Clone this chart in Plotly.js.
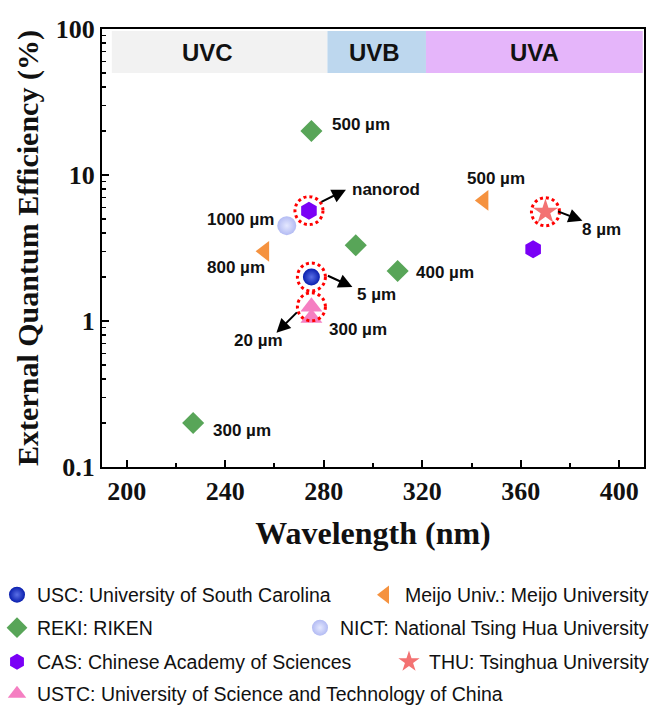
<!DOCTYPE html>
<html><head><meta charset="utf-8">
<script src="https://cdn.plot.ly/plotly-3.0.1.min.js"></script>
<style>html,body{margin:0;padding:0;background:#fff}#chart{width:652px;height:707px}</style>
</head><body><div id="chart"></div>
<script>
// ---------- data (wavelength nm, EQE %) ----------
const uscX = [275],  uscY = [2.0];
const rekiX = [275, 293, 310, 227], rekiY = [20, 3.3, 2.2, 0.2];
const casX = [274, 365], casY = [5.7, 3.1];
const ustcX = [275, 275], ustcY = [1.25, 1.05];
const meijoX = [256, 345], meijoY = [3.0, 6.7];
const nictX = [265], nictY = [4.5];
const thuX = [370], thuY = [5.6];

const seriesNames = [
  'USC: University of South Carolina',
  'REKI: RIKEN',
  'CAS: Chinese Academy of Sciences',
  'USTC: University of Science and Technology of China',
  'Meijo Univ.: Meijo University',
  'NICT: National Tsing Hua University',
  'THU: Tsinghua University'
];

// spectral bands
const bandNames = ['UVC', 'UVB', 'UVA'];
const bandStart = [194, 281.5, 321.5];
const bandEnd = [281.5, 321.5, 409.5];
const bandLabelX = [233, 300.5, 365.5];
const bandColors = ['#f2f2f2', '#bdd7ee', '#e5b5fa'];
const bandLow = 50, bandHigh = 97, bandLabelY = 69;

// axes
const xTicks = [200, 240, 280, 320, 360, 400];
const xTickText = ['200', '240', '280', '320', '360', '400'];
const yTicks = [0.1, 1, 10, 100];
const yTickText = ['0.1', '1', '10', '100'];

// ---------- styling ----------
const serif = 'Liberation Serif, Times New Roman, serif';
const sans = 'Liberation Sans, Arial, sans-serif';
const lg = Math.log10;
const PX_PER_DECADE = 438 / 3;

function tr(x, y, name, legend, symbol, color, size, extra) {
  const m = Object.assign({symbol: symbol, color: color, size: size, line: {width: 0}}, extra || {});
  return {type: 'scatter', mode: 'markers', x: x, y: y, name: name, legend: legend,
          marker: m, hoverinfo: 'x+y', cliponaxis: false};
}

const data = [
  tr(uscX, uscY, seriesNames[0], 'legend', 'circle', '#0a1fae', 17, {gradient: {type: 'radial', color: '#5a6fe6'}}),
  tr(rekiX, rekiY, seriesNames[1], 'legend2', 'diamond', '#58a558', 17),
  tr(casX, casY, seriesNames[2], 'legend3', 'hexagon', '#7a00f6', 18),
  tr(ustcX, ustcY, seriesNames[3], 'legend4', 'triangle-up', '#f57fc2', 19),
  tr(meijoX, meijoY, seriesNames[4], 'legend5', 'triangle-left', '#f5923f', 18),
  tr(nictX, nictY, seriesNames[5], 'legend6', 'circle', '#b3bbf3', 19, {gradient: {type: 'radial', color: '#e4e8ff'}}),
  tr(thuX, thuY, seriesNames[6], 'legend7', 'star', '#f37272', 19)
];

// band rectangles + labels
const shapes = [];
const annotations = [];
for (let i = 0; i < bandNames.length; i++) {
  shapes.push({type: 'rect', xref: 'x', yref: 'y', x0: bandStart[i], x1: bandEnd[i],
    y0: bandLow, y1: bandHigh, fillcolor: bandColors[i], line: {width: 0}, layer: 'below'});
  annotations.push({xref: 'x', yref: 'y', x: bandLabelX[i], y: lg(bandLabelY), text: bandNames[i],
    showarrow: false, font: {family: sans, size: 24, color: '#111', weight: 'bold'}});
}

// red dotted highlight circles (anchored on data points, radius in px)
const R = 14;
const highlights = [[casX[0], casY[0]], [uscX[0], uscY[0]], [ustcX[0], ustcY[0]], [thuX[0], thuY[0]]];
highlights.forEach(p => {
  const f = Math.pow(10, R / PX_PER_DECADE);
  shapes.push({type: 'circle', xref: 'x', yref: 'y', xsizemode: 'pixel',
    xanchor: p[0], x0: -R, x1: R, y0: p[1] / f, y1: p[1] * f,
    line: {color: '#ff0000', width: 3, dash: '3px,3px'}, fillcolor: 'rgba(0,0,0,0)'});
});

// text labels next to points: [x, y, text, dx, dy, anchor]
const labelFont = {family: sans, size: 17, color: '#111', weight: 'bold'};
const labels = [
  [rekiX[0], rekiY[0], '500 µm', 19, -7, 'left'],
  [rekiX[2], rekiY[2], '400 µm', 16, 1, 'left'],
  [rekiX[3], rekiY[3], '300 µm', 18, 7, 'left'],
  [nictX[0], nictY[0], '1000 µm', -11, -6, 'right'],
  [meijoX[0], meijoY[0], '800 µm', -29, 16, 'center'],
  [meijoX[1], meijoY[1], '500 µm', 12, -22, 'center'],
  [ustcX[1], ustcY[1], '300 µm', 16, 12, 'left'],
  [casX[0], casY[0], 'nanorod', 41, -21, 'left'],
  [uscX[0], uscY[0], '5 µm', 44, 17, 'left'],
  [ustcX[0], ustcY[0], '20 µm', -53, 34, 'center'],
  [thuX[0], thuY[0], '8 µm', 35, 18, 'left']
];
labels.forEach(l => {
  annotations.push({xref: 'x', yref: 'y', x: l[0], y: lg(l[1]), text: l[2], showarrow: false,
    xanchor: l[5], yanchor: 'middle', xshift: l[3], yshift: -l[4], font: labelFont});
});

// arrows: [x, y, tailDx, tailDy, headDx, headDy] in screen px relative to the point
const arrows = [
  [casX[0], casY[0], 11, -8, 37, -21],
  [uscX[0], uscY[0], 15, -2, 41, 10],
  [ustcX[0], ustcY[0], -13, 4, -35, 26],
  [thuX[0], thuY[0], 11, -1, 37, 9]
];
arrows.forEach(a => {
  annotations.push({xref: 'x', yref: 'y', x: a[0], y: lg(a[1]), text: '', showarrow: true,
    xshift: a[4], yshift: -a[5], ax: a[2] - a[4], ay: a[3] - a[5],
    arrowhead: 2, arrowsize: 1.4, arrowwidth: 2, arrowcolor: '#000', standoff: 0, startstandoff: 0});
});

// legends (paper coordinates; plot area spans x 102..644, y 29..467 px)
const legFont = {family: sans, size: 19.5, color: '#111'};
const px2x = p => (p - 102) / 542;
const px2y = p => (467 - p) / 438;
const rowY = [595, 628, 662, 694].map(px2y);
function leg(xpx, y, xanchor) {
  return {xref: 'paper', yref: 'paper', x: px2x(xpx), y: y, xanchor: xanchor, yanchor: 'middle',
    bgcolor: 'rgba(0,0,0,0)', borderwidth: 0, font: legFont, itemclick: false, itemdoubleclick: false};
}

const layout = {
  width: 652, height: 707,
  margin: {l: 102, r: 8, t: 29, b: 240, autoexpand: false},
  paper_bgcolor: '#fff', plot_bgcolor: '#fff',
  showlegend: true,
  xaxis: {
    type: 'linear', range: [190, 410], tickmode: 'array', tickvals: xTicks, ticktext: xTickText,
    ticks: 'inside', ticklen: 7, tickwidth: 2, tickcolor: '#000',
    minor: {dtick: 20, tick0: 200, ticks: 'inside', ticklen: 4, tickwidth: 2, tickcolor: '#000'},
    showline: true, linewidth: 2, linecolor: '#000', mirror: true,
    showgrid: false, zeroline: false, automargin: false,
    tickfont: {family: serif, size: 26, color: '#111', weight: 'bold'},
    title: {text: 'Wavelength (nm)', standoff: 16, font: {family: serif, size: 32, color: '#111', weight: 'bold'}}
  },
  yaxis: {
    type: 'log', range: [-1, 2], tickmode: 'array', tickvals: yTicks, ticktext: yTickText,
    ticks: 'inside', ticklen: 7, tickwidth: 2, tickcolor: '#000',
    minor: {dtick: 'D1', ticks: 'inside', ticklen: 4, tickwidth: 1.5, tickcolor: '#000'},
    showline: true, linewidth: 2, linecolor: '#000', mirror: true,
    showgrid: false, zeroline: false, automargin: false,
    tickfont: {family: serif, size: 26, color: '#111', weight: 'bold'},
    title: {text: 'External Quantum Efficiency (%)', standoff: 8, font: {family: serif, size: 30, color: '#111', weight: 'bold'}}
  },
  shapes: shapes,
  annotations: annotations,
  legend: leg(-3, rowY[0], 'left'),
  legend2: leg(-3, rowY[1], 'left'),
  legend3: leg(-3, rowY[2], 'left'),
  legend4: leg(-3, rowY[3], 'left'),
  legend5: leg(654, rowY[0], 'right'),
  legend6: leg(654, rowY[1], 'right'),
  legend7: leg(654, rowY[2], 'right')
};

Plotly.newPlot('chart', data, layout, {displayModeBar: false, staticPlot: true});
</script>
</body></html>
